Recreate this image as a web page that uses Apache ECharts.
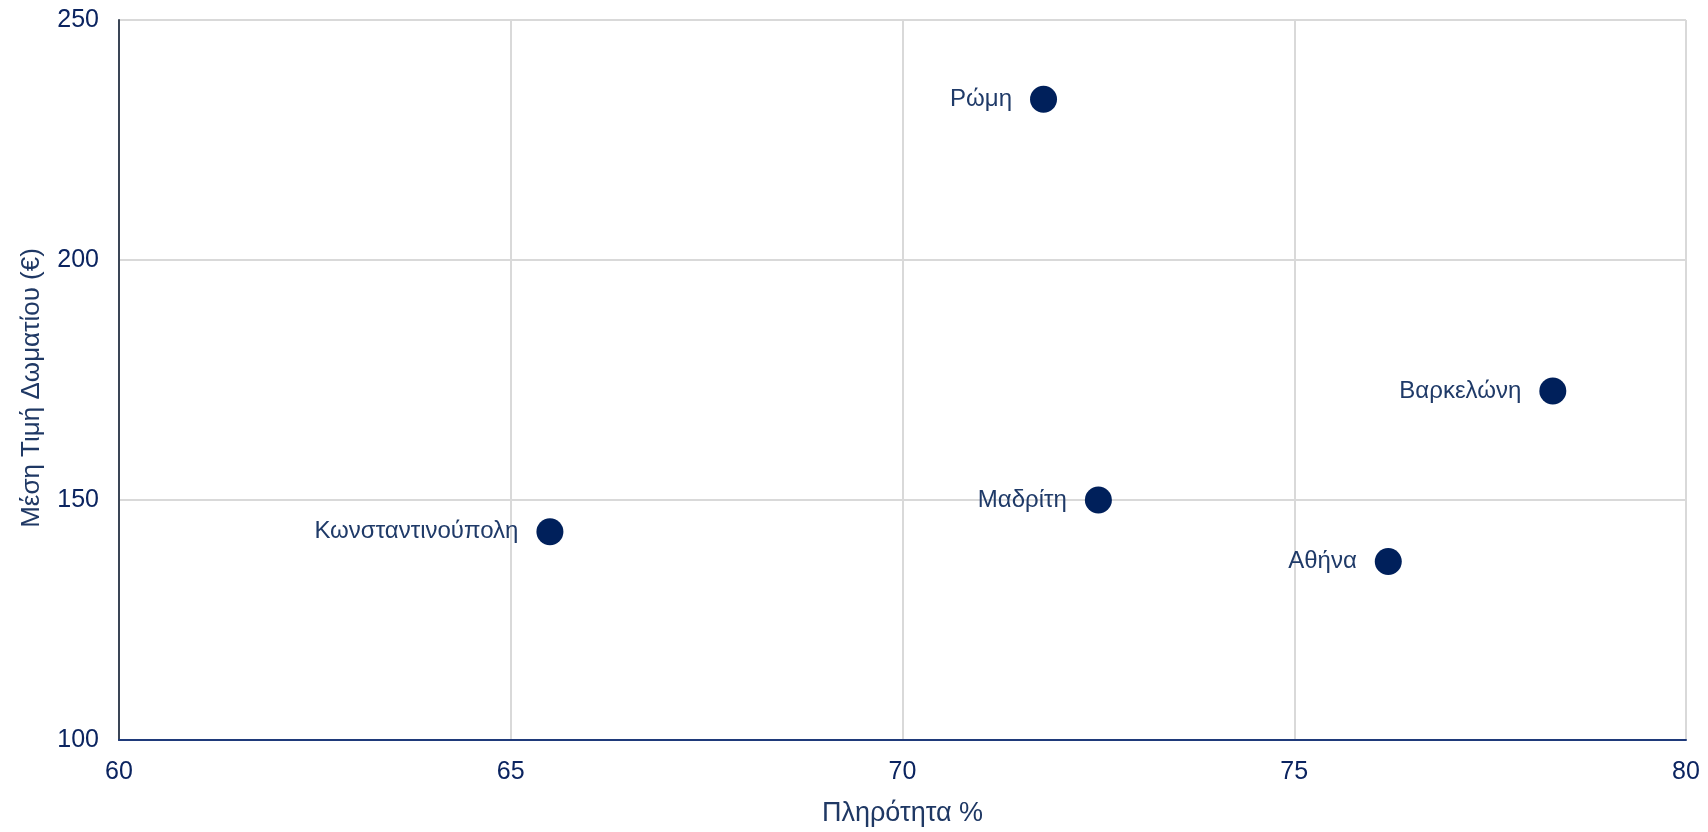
<!DOCTYPE html>
<html>
<head>
<meta charset="utf-8">
<script src="https://cdn.jsdelivr.net/npm/echarts@6/dist/echarts.min.js"></script>
<style>
  html, body { margin: 0; padding: 0; background: #fff; }
  #main { width: 1708px; height: 832px; }
</style>
</head>
<body>
<div id="main"></div>
<script>
  // data
  const cities = ['Ρώμη', 'Κωνσταντινούπολη', 'Μαδρίτη', 'Αθήνα', 'Βαρκελώνη'];
  const occupancy = [71.8, 65.5, 72.5, 76.2, 78.3];
  const roomPrice = [233.5, 143.4, 150, 137.2, 172.7];

  const points = cities.map((c, i) => ({ name: c, value: [occupancy[i], roomPrice[i]] }));

  const chart = echarts.init(document.getElementById('main'));
  const font = 'Liberation Sans, Arial, sans-serif';
  const option = {
    animation: false,
    grid: { left: 119, right: 22, top: 20, bottom: 90 },
    xAxis: {
      type: 'value',
      min: 60, max: 80, interval: 5,
      name: 'Πληρότητα %',
      nameLocation: 'middle',
      nameGap: 60,
      nameTextStyle: { color: '#1F3864', fontSize: 27, fontFamily: font },
      axisLine: { show: true, lineStyle: { color: '#1F3A7A', width: 2 } },
      axisTick: { show: false },
      axisLabel: { color: '#0B2460', fontSize: 25, fontFamily: font, margin: 20 },
      splitLine: { show: true, lineStyle: { color: '#D9D9D9', width: 2 } }
    },
    yAxis: {
      type: 'value',
      min: 100, max: 250, interval: 50,
      name: 'Μέση Τιμή Δωματίου (€)',
      nameLocation: 'middle',
      nameGap: 74,
      nameTextStyle: { color: '#1F3864', fontSize: 26, fontFamily: font, padding: [0, 16, 0, 0] },
      axisLine: { show: true, lineStyle: { color: '#3A4556', width: 2 } },
      axisTick: { show: false },
      axisLabel: { color: '#0B2460', fontSize: 25, fontFamily: font, margin: 20 },
      splitLine: { show: true, lineStyle: { color: '#D9D9D9', width: 2 } }
    },
    series: [{
      type: 'scatter',
      data: points,
      symbolSize: 27,
      itemStyle: { color: '#00205B', opacity: 1 },
      label: {
        show: true,
        position: 'left',
        distance: 18,
        formatter: p => p.name,
        color: '#1F3A68',
        fontSize: 24,
        fontFamily: font
      }
    }]
  };
  chart.setOption(option);
</script>
</body>
</html>
